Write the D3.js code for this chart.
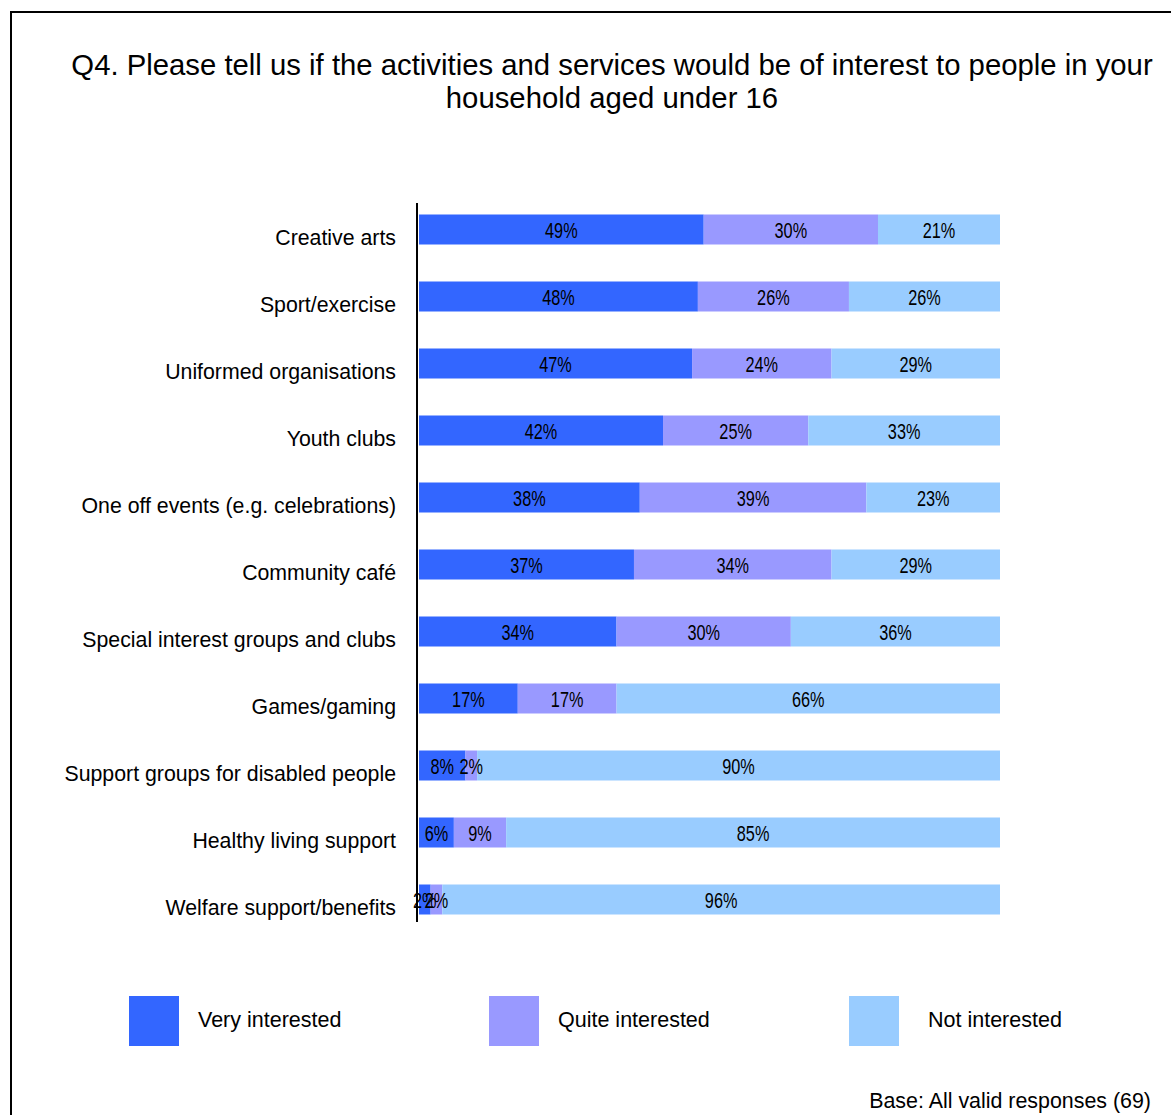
<!DOCTYPE html>
<html>
<head>
<meta charset="utf-8">
<script src="https://cdn.jsdelivr.net/npm/d3@7"></script>
<style>
  html, body { margin: 0; padding: 0; background: #fff; }
  svg { display: block; }
</style>
</head>
<body>
<svg id="chart" width="1171" height="1115"></svg>
<script>
// Survey responses, share of respondents (%)
const categories = [
  "Creative arts",
  "Sport/exercise",
  "Uniformed organisations",
  "Youth clubs",
  "One off events (e.g. celebrations)",
  "Community café",
  "Special interest groups and clubs",
  "Games/gaming",
  "Support groups for disabled people",
  "Healthy living support",
  "Welfare support/benefits"
];
const veryInterested  = [49, 48, 47, 42, 38, 37, 34, 17, 8, 6, 2];
const quiteInterested = [30, 26, 24, 25, 39, 34, 30, 17, 2, 9, 2];
const notInterested   = [21, 26, 29, 33, 23, 29, 36, 66, 90, 85, 96];
const seriesNames = ["Very interested", "Quite interested", "Not interested"];
const seriesColors = ["#3366FF", "#9999FF", "#99CCFF"];

const titleLines = [
  "Q4. Please tell us if the activities and services would be of interest to people in your",
  "household aged under 16"
];
const baseNote = "Base: All valid responses (69)";

const svg = d3.select("#chart");
const sansFont = "'Liberation Sans', Arial, Helvetica, sans-serif";

// Outer frame
svg.append("rect")
  .attr("x", 11).attr("y", 12)
  .attr("width", 1200).attr("height", 1200)
  .attr("fill", "none").attr("stroke", "#000").attr("stroke-width", 2);

// Title
svg.append("g").selectAll("text")
  .data(titleLines)
  .join("text")
  .attr("x", 612)
  .attr("y", (d, i) => 75 + i * 33)
  .attr("text-anchor", "middle")
  .attr("font-family", sansFont)
  .attr("font-size", 29.3)
  .attr("fill", "#000")
  .text(d => d);

// Build rows
const rows = categories.map((c, i) => ({
  category: c,
  values: [veryInterested[i], quiteInterested[i], notInterested[i]]
}));

const x = d3.scaleLinear().domain([0, 100]).range([419, 1000]);
const y = d3.scalePoint().domain(categories).range([229.5, 899.5]);
const barHeight = 30;

const stack = d3.stack().keys([0, 1, 2]).value((d, k) => d.values[k]);
const layers = stack(rows);

const barLayer = svg.append("g");
layers.forEach((layer, k) => {
  barLayer.append("g")
    .attr("fill", seriesColors[k])
    .selectAll("rect")
    .data(layer)
    .join("rect")
    .attr("x", d => x(d[0]))
    .attr("y", d => y(d.data.category) - barHeight / 2)
    .attr("width", d => x(d[1]) - x(d[0]))
    .attr("height", barHeight);
});

// Value labels centred in each segment, set in a condensed face
const labelLayer = svg.append("g")
  .attr("font-family", sansFont)
  .attr("font-size", 22)
  .attr("fill", "#000")
  .attr("text-anchor", "middle");
layers.forEach((layer) => {
  labelLayer.append("g")
    .selectAll("text")
    .data(layer)
    .join("text")
    .attr("transform", d =>
      `translate(${(x(d[0]) + x(d[1])) / 2},${y(d.data.category) + 1}) scale(0.74,1)`)
    .attr("dy", "0.36em")
    .text(d => (d[1] - d[0]) + "%");
});

// Category axis
const axis = d3.axisLeft(y).tickSize(0).tickPadding(21);
const axisG = svg.append("g")
  .attr("transform", `translate(${x(0) - 2},0)`)
  .call(axis);
axisG.select(".domain").remove();
axisG.selectAll("text")
  .attr("font-family", sansFont)
  .attr("font-size", 21.3)
  .attr("fill", "#000")
  .attr("dy", "0.7em");
svg.append("line")
  .attr("x1", x(0) - 2).attr("x2", x(0) - 2)
  .attr("y1", 203).attr("y2", 922)
  .attr("stroke", "#000").attr("stroke-width", 2);

// Legend
const legend = svg.append("g")
  .selectAll("g")
  .data(seriesNames)
  .join("g")
  .attr("transform", (d, i) => `translate(${129 + i * 360},996)`);
legend.append("rect")
  .attr("width", 50).attr("height", 50)
  .attr("fill", (d, i) => seriesColors[i]);
legend.append("text")
  .attr("x", (d, i) => i === 2 ? 79 : 69)
  .attr("y", 23)
  .attr("dy", "0.36em")
  .attr("font-family", sansFont)
  .attr("font-size", 21.5)
  .attr("fill", "#000")
  .text(d => d);

// Base note
svg.append("text")
  .attr("x", 1151).attr("y", 1108)
  .attr("text-anchor", "end")
  .attr("font-family", sansFont)
  .attr("font-size", 21.4)
  .attr("fill", "#000")
  .text(baseNote);
</script>
</body>
</html>
